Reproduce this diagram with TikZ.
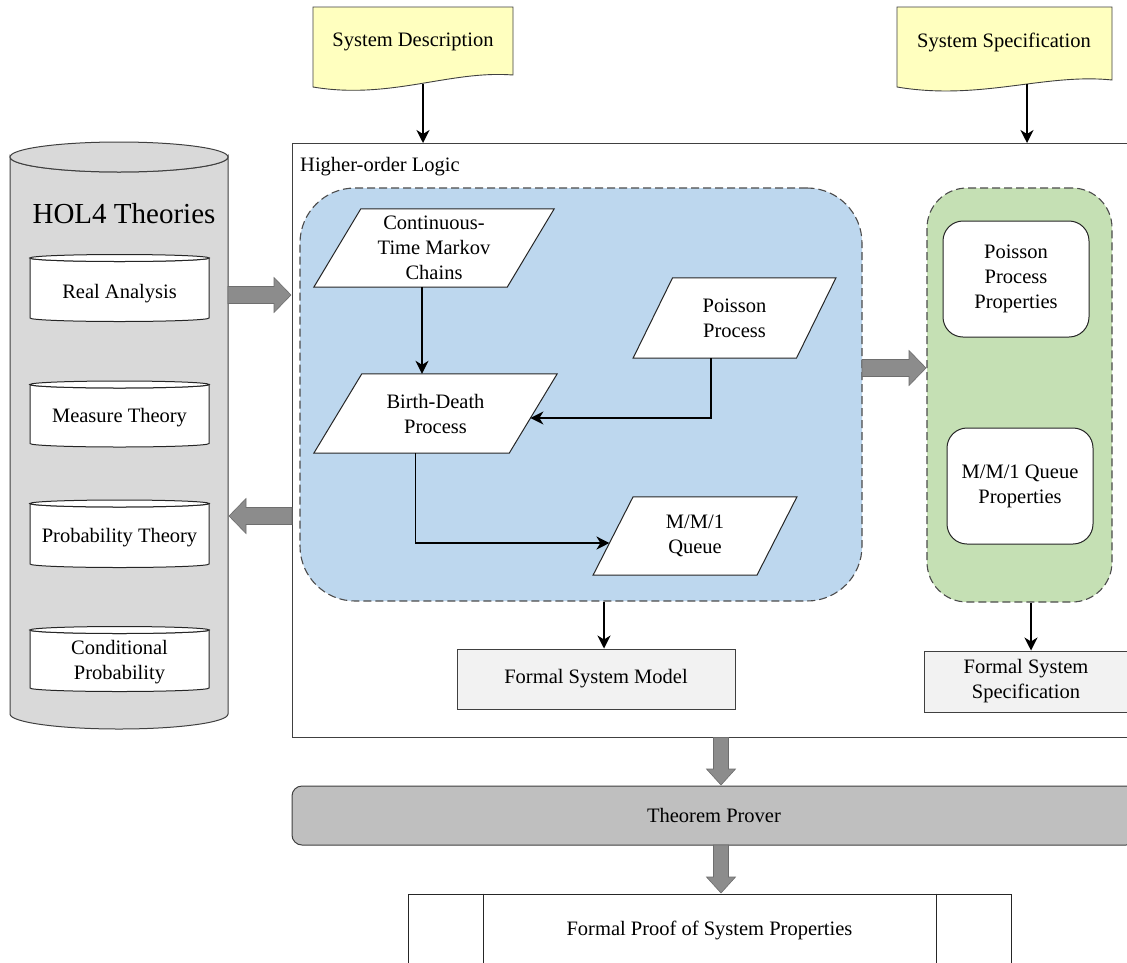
\documentclass[tikz,border=0pt]{standalone}
\usepackage{fontspec}
\setmainfont{Liberation Serif}
\usetikzlibrary{arrows.meta,calc}
\definecolor{docyellow}{HTML}{FFFFBF}
\definecolor{regblue}{HTML}{BDD7EE}
\definecolor{reggreen}{HTML}{C5E0B4}
\definecolor{cylgray}{HTML}{D9D9D9}
\definecolor{tpgray}{HTML}{BFBFBF}
\definecolor{boxgray}{HTML}{F2F2F2}
\definecolor{arrowgray}{HTML}{8C8C8C}
\definecolor{arrowedge}{HTML}{6E6E6E}
\definecolor{edgegray}{HTML}{404040}
\pgfdeclarelayer{bgzero}
\pgfdeclarelayer{bgone}
\pgfsetlayers{bgzero,bgone,main}
\newcommand\dbcyl[6]{% cx, ytop, ybot, rx, ry, style
  \draw[#6] (#1-#4,#2) -- (#1-#4,#3) arc[start angle=180,end angle=360,x radius=#4pt,y radius=#5pt] -- (#1+#4,#2) arc[start angle=0,end angle=-180,x radius=#4pt,y radius=#5pt] -- cycle;
  \draw[#6] (#1,#2) ellipse[x radius=#4pt,y radius=#5pt];}
\newcommand\paraoutline[2]{%
  \begin{pgfonlayer}{bgone}
  \draw[parashape] ([xshift=-#2pt]#1.south west) -- ([xshift=-#2pt]#1.south east) -- ([xshift=#2pt]#1.north east) -- ([xshift=#2pt]#1.north west) -- cycle;
  \end{pgfonlayer}}
\newcommand\harrowR[3]{\filldraw[bigarrow] (#1,#3-8.5) -- (#2-17,#3-8.5) -- (#2-17,#3-17.5) -- (#2,#3) -- (#2-17,#3+17.5) -- (#2-17,#3+8.5) -- (#1,#3+8.5) -- cycle;}
\newcommand\harrowL[3]{\filldraw[bigarrow] (#1,#3-8.5) -- (#2+17,#3-8.5) -- (#2+17,#3-17.5) -- (#2,#3) -- (#2+17,#3+17.5) -- (#2+17,#3+8.5) -- (#1,#3+8.5) -- cycle;}
\newcommand\varrowD[3]{\filldraw[bigarrow] (#1-7.5,#2) -- (#1-7.5,#3-16) -- (#1-14.5,#3-16) -- (#1,#3) -- (#1+14.5,#3-16) -- (#1+7.5,#3-16) -- (#1+7.5,#2) -- cycle;}
\begin{document}
\begin{tikzpicture}[x=1pt,y=-1pt,
  every node/.style={font=\fontsize{20.5}{25}\selectfont, align=center, inner sep=0pt},
  conn/.style={line width=1.6pt, -{Stealth[length=13pt,width=13pt,inset=4pt]}},
  bigarrow/.style={fill=arrowgray, draw=arrowedge, line width=0.6pt},
  parashape/.style={draw=black!85, line width=1pt, fill=white},
  doc/.style={draw=edgegray, line width=0.9pt, fill=docyellow},
  bigcyl/.style={draw=edgegray, line width=1pt, fill=cylgray},
  smallcyl/.style={draw=black!85, line width=1pt, fill=white},
  region/.style={draw=black!70, line width=1.1pt, dash pattern=on 8pt off 4pt},
  propbox/.style={draw=black!85, line width=1pt, fill=white, rounded corners=20pt, minimum width=146, minimum height=116},
  formbox/.style={draw=edgegray, line width=1pt, fill=boxgray}]
\clip (0,0) rectangle (1127,962);

% outer box and regions
\begin{pgfonlayer}{bgzero}
\fill[white] (0,0) rectangle (1127,962);
\node[draw=black!75, line width=1pt, minimum width=900, minimum height=594, anchor=north west] (outer) at (292,143) {};
\node[region, fill=regblue, rounded corners=55pt, minimum width=562, minimum height=413] (blue) at (581,394.5) {};
\node[region, fill=reggreen, rounded corners=40pt, minimum width=185, minimum height=414] (green) at (1019.5,395) {};
\end{pgfonlayer}
\node[anchor=west] (hol) at (300,167) {Higher-order Logic};

% documents
\draw[doc] (313,7) -- (513,7) -- (513,75) .. controls (450,70) and (390,100) .. (313,87) -- cycle;
\node (sysdesc) at (413,42) {System Description};
\coordinate (sdb) at (423,84);
\draw[doc] (897,7) -- (1112,7) -- (1112,80) .. controls (1045,73) and (980,101) .. (897,87) -- cycle;
\node (sysspec) at (1004,42) {System Specification};
\coordinate (ssb) at (1027,84);

\draw[conn] (sdb) -- (sdb |- outer.north);
\draw[conn] (ssb) -- (ssb |- outer.north);

% big cylinder
\dbcyl{119}{157}{714}{109}{15}{bigcyl}
\node[minimum width=218, minimum height=557, anchor=north west] (cyl) at (10,157) {};
\node[font=\fontsize{29}{34}\selectfont] (holt) at (124,214) {HOL4 Theories};
\dbcyl{119.5}{258}{318}{89.5}{3.5}{smallcyl}
\node (real) at (119.5,294) {Real Analysis};
\dbcyl{119.5}{384.5}{443.5}{89.5}{3.5}{smallcyl}
\node (meas) at (119.5,418) {Measure Theory};
\dbcyl{119.5}{503.5}{564}{89.5}{3.5}{smallcyl}
\node (prob) at (119.5,538) {Probability Theory};
\dbcyl{119.5}{630}{688}{89.5}{3.5}{smallcyl}
\node (cond) at (119.5,662) {Conditional\\Probability};

% parallelograms
\node[minimum width=193, minimum height=78] (ctmc) at (434,248) {Continuous-\\Time Markov\\Chains};
\paraoutline{ctmc}{23.5}
\node[minimum width=163, minimum height=80] (pois) at (734.5,318) {Poisson\\Process};
\paraoutline{pois}{19.75}
\node[minimum width=195, minimum height=79] (bd) at (435.5,413.5) {Birth-Death\\Process};
\paraoutline{bd}{24}
\node[minimum width=163.5, minimum height=78] (mm1) at (695,536) {M/M/1\\Queue};
\paraoutline{mm1}{20}

\draw[conn] ([xshift=-12pt]ctmc.south) -- ([xshift=-12pt]ctmc.south |- bd.north);
\draw[conn] ([xshift=-23.5pt]pois.south) |- ([xshift=-2.8pt,yshift=-4.5pt]bd.east);
\draw[conn] ([xshift=-20pt]bd.south) |- ([xshift=-3.6pt,yshift=-7pt]mm1.west);

% property boxes
\node[propbox] (ppp) at (1016,279) {Poisson\\Process\\Properties};
\node[propbox] (mmqp) at (1020,486) {M/M/1 Queue\\Properties};

% formal boxes
\node[formbox, minimum width=278, minimum height=60] (fsm) at (596,679) {Formal System Model};
\node[formbox, minimum width=204, minimum height=61] (fss) at (1026,681.5) {Formal System\\Specification};
\draw[conn] ([xshift=23pt]blue.south) -- ([xshift=8pt]fsm.north);
\draw[conn] ([xshift=11.5pt]green.south) -- ([xshift=5pt]fss.north);

% theorem prover and proof
\node[draw=edgegray, line width=1pt, fill=tpgray, rounded corners=10pt, minimum width=844, minimum height=59] (tp) at (714,815.5) {Theorem Prover};
\node[draw=black!85, line width=1pt, fill=white, minimum width=603, minimum height=72] (proof) at (709.5,930) {Formal Proof of System Properties};
\draw[line width=1pt, draw=black!85] ([xshift=76pt]proof.north west) -- ([xshift=76pt]proof.south west);
\draw[line width=1pt, draw=black!85] ([xshift=-75pt]proof.north east) -- ([xshift=-75pt]proof.south east);

% big block arrows
\harrowR{228}{291}{295}
\harrowL{292}{229}{516}
\harrowR{862}{926}{368}
\varrowD{721}{737.5}{785}
\varrowD{721}{845}{893}
\end{tikzpicture}
\end{document}
